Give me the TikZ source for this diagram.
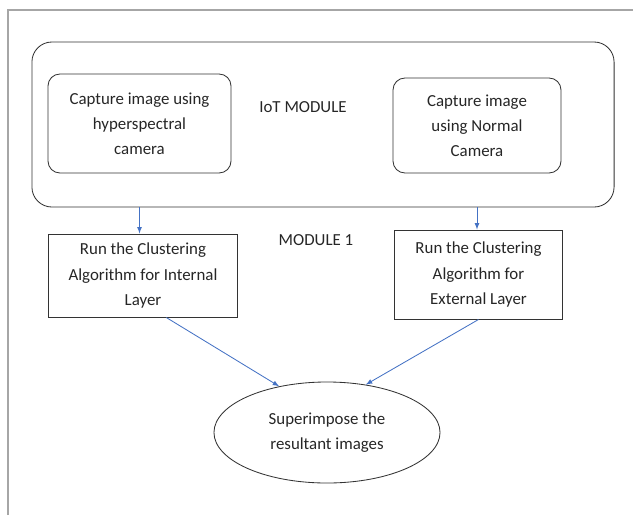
\documentclass[tikz,border=0pt]{standalone}
\usepackage{fontspec}
\setmainfont{Carlito}
\usepackage{xcolor}
\definecolor{arrowblue}{HTML}{4472C4}
\definecolor{framegray}{HTML}{A6A6A6}
\usetikzlibrary{shapes,arrows,positioning}

\begin{document}
\begin{tikzpicture}[
    x=0.025cm, y=-0.025cm,
    txt/.style={font=\fontsize{12}{17.8}\selectfont, text=black!85, align=center},
    modbox/.style={draw=black!80, rounded corners=0.5cm, line width=0.6pt, minimum width=14.55cm, minimum height=4.125cm},
    capbox/.style={txt, draw=black!80, rounded corners=0.3cm, line width=0.6pt, inner sep=0pt},
    runbox/.style={txt, draw=black!80, line width=0.7pt, inner sep=0pt},
    flow/.style={-latex, arrowblue, line width=0.6pt},
]
\useasboundingbox (0,0) rectangle (633,515);

% 外框
\draw[framegray, line width=1.4pt] (8,515) -- (8,10) -- (633,10);

% IoT 模块
\node[modbox] (iot) at (323,124.5) {};
\node[capbox, minimum width=4.575cm, minimum height=2.475cm] (capL) at (139.5,123.5) {Capture image using\\hyperspectral\\camera};
\node[capbox, minimum width=4.2cm, minimum height=2.375cm] (capR) at (477,125.5) {Capture image\\using Normal\\Camera};
\node[txt] (iotlbl) at (303,107) {IoT MODULE};

% 模块 1
\node[txt] (modlbl) at (316,240) {MODULE 1};
\node[runbox, minimum width=4.7cm, minimum height=2.075cm] (runL) at (143,275.5) {Run the Clustering\\Algorithm for Internal\\Layer};
\node[runbox, minimum width=4.175cm, minimum height=2.225cm] (runR) at (478.5,274.5) {Run the Clustering\\Algorithm for\\External Layer};

% 叠加结果
\node[txt, ellipse, draw=black!80, line width=0.6pt, inner sep=0pt, minimum width=5.65cm, minimum height=2.525cm] (sup) at (327,432.5) {Superimpose the\\resultant images};

% 箭头
\draw[flow] (capL |- iot.south) -- (capL |- runL.north);
\draw[flow] (capR |- iot.south) -- (capR |- runR.north);
\draw[flow] (runL.-61) -- (sup.136);
\draw[flow] (runR.south) -- (sup.51);

\end{tikzpicture}
\end{document}
